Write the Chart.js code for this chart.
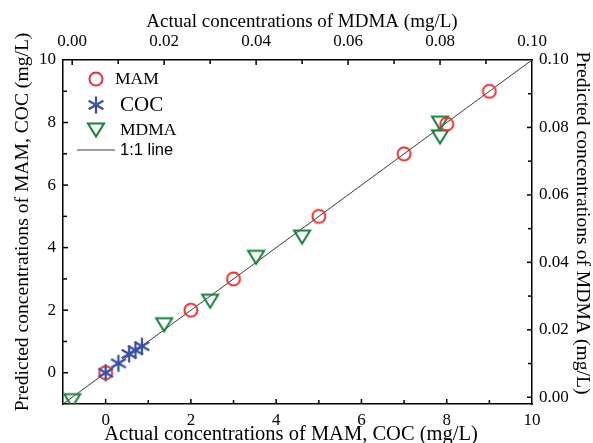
<!DOCTYPE html>
<html lang="en">
<head>
  <meta charset="UTF-8" />
  <title>Predicted vs actual concentrations</title>
  <script src="https://cdn.jsdelivr.net/npm/chart.js"></script>
  <style>
    html, body { margin: 0; padding: 0; background: #fff; }
  </style>
</head>
<body>
  <canvas id="grafico" width="593" height="443"></canvas>

  <script>
    // MAM and COC: bottom / left axes (mg/L)
    const mamActual = [0, 2, 3, 5, 7, 8, 9];
    const mamPredicted = [0, 2, 3, 5, 7, 7.95, 9];
    const cocActual = [0, 0.3, 0.55, 0.7, 0.85];
    const cocPredicted = [0, 0.3, 0.6, 0.72, 0.85];
    // MDMA: top / right axes (mg/L)
    const mdmaActual = [0, 0.02, 0.03, 0.04, 0.05, 0.08, 0.08];
    const mdmaPredicted = [-0.001, 0.0215, 0.0285, 0.0415, 0.0475, 0.0772, 0.0813];
    // 1:1 line ends
    const lineEnds = [-1, 10];

    const xTicks = [0, 2, 4, 6, 8, 10];
    const yTicks = [0, 2, 4, 6, 8, 10];
    const x2Ticks = [0, 0.02, 0.04, 0.06, 0.08, 0.10];
    const y2Ticks = [0, 0.02, 0.04, 0.06, 0.08, 0.10];

    const titleBottom = 'Actual concentrations of MAM, COC (mg/L)';
    const titleTop = 'Actual concentrations of MDMA (mg/L)';
    const titleLeft = 'Predicted concentrations of MAM, COC (mg/L)';
    const titleRight = 'Predicted concentrations of MDMA (mg/L)';

    const serif = '"Liberation Serif", "Times New Roman", serif';
    const sans = '"Liberation Sans", Arial, sans-serif';

    // hollow markers drawn once on small canvases
    function marcador(tipo) {
      const c = document.createElement('canvas');
      c.width = 22; c.height = 22;
      const g = c.getContext('2d');
      g.lineWidth = 2;
      if (tipo === 'circulo') {
        g.strokeStyle = '#ee2e2e';
        g.beginPath(); g.arc(11, 11, 6.5, 0, Math.PI * 2); g.stroke();
      } else if (tipo === 'asterisco') {
        g.strokeStyle = '#3a50a6';
        g.lineWidth = 2.3;
        g.beginPath();
        for (let k = 0; k < 3; k++) {
          const ang = Math.PI / 2 + k * Math.PI / 3;
          g.moveTo(11 + 8.5 * Math.cos(ang), 11 + 8.5 * Math.sin(ang));
          g.lineTo(11 - 8.5 * Math.cos(ang), 11 - 8.5 * Math.sin(ang));
        }
        g.stroke();
      } else {
        g.strokeStyle = '#16803c';
        g.beginPath(); g.moveTo(3, 4.5); g.lineTo(19, 4.5); g.lineTo(11, 17.5); g.closePath(); g.stroke();
      }
      return c;
    }
    const circulo = marcador('circulo');
    const asterisco = marcador('asterisco');
    const triangulo = marcador('triangulo');

    function eixo(pos, min, max, valores, casas, tamanho, pad) {
      return {
        type: 'linear', position: pos, min: min, max: max,
        grid: { display: false, drawTicks: false, tickLength: 0 },
        border: { display: true, color: '#000', width: 1.5 },
        ticks: {
          autoSkip: false, maxRotation: 0, padding: pad, color: '#000',
          font: { family: serif, size: 17 },
          callback: v => v.toFixed(casas)
        },
        afterBuildTicks: s => { s.ticks = valores.map(v => ({ value: v })); },
        afterFit: s => { if (s.isHorizontal()) s.height = tamanho; else s.width = tamanho; }
      };
    }

    // inward tick marks, major + minor
    const marcasInternas = {
      id: 'marcasInternas',
      afterDraw(chart) {
        const ctx = chart.ctx, a = chart.chartArea;
        ctx.save();
        ctx.strokeStyle = '#000';
        ctx.lineWidth = 1.5;
        Object.values(chart.scales).forEach(s => {
          const vals = s.ticks.map(t => t.value);
          const passo = vals[1] - vals[0];
          const marcas = [];
          vals.forEach(v => { marcas.push([v, 5]); marcas.push([v + passo / 2, 4]); });
          marcas.forEach(([v, len]) => {
            if (v <= s.min + 1e-9 || v >= s.max - 1e-9) return;
            const p = s.getPixelForValue(v);
            ctx.beginPath();
            if (s.position === 'bottom') { ctx.moveTo(p, a.bottom); ctx.lineTo(p, a.bottom - len); }
            if (s.position === 'top') { ctx.moveTo(p, a.top); ctx.lineTo(p, a.top + len); }
            if (s.position === 'left') { ctx.moveTo(a.left, p); ctx.lineTo(a.left + len, p); }
            if (s.position === 'right') { ctx.moveTo(a.right, p); ctx.lineTo(a.right - len, p); }
            ctx.stroke();
          });
        });
        ctx.restore();
      }
    };

    // axis titles
    const titulos = {
      id: 'titulos',
      afterDraw(chart) {
        const ctx = chart.ctx;
        ctx.save();
        ctx.fillStyle = '#000';
        ctx.textAlign = 'center';
        ctx.textBaseline = 'alphabetic';
        ctx.font = '19px ' + serif;
        ctx.fillText(titleTop, 302, 27);
        ctx.font = '20.5px ' + serif;
        ctx.fillText(titleBottom, 291, 440);
        ctx.font = '19.6px ' + serif;
        ctx.save();
        ctx.translate(28, 222); ctx.rotate(-Math.PI / 2);
        ctx.fillText(titleLeft, 0, 0);
        ctx.restore();
        ctx.save();
        ctx.translate(577, 223); ctx.rotate(Math.PI / 2);
        ctx.fillText(titleRight, 0, 0);
        ctx.restore();
        ctx.restore();
      }
    };

    // legend inside the plot, top left
    const legenda = {
      id: 'legenda',
      afterDraw(chart) {
        const ctx = chart.ctx, a = chart.chartArea;
        const x0 = a.left + 33;
        const itens = [
          { img: circulo, y: a.top + 19, tx: a.left + 52, font: '17.5px ' + serif },
          { img: asterisco, y: a.top + 45, tx: a.left + 57, font: '21px ' + serif },
          { img: triangulo, y: a.top + 70, tx: a.left + 57, font: '17.5px ' + serif },
          { img: null, y: a.top + 90, tx: a.left + 57, font: '16.5px ' + sans }
        ];
        ctx.save();
        ctx.fillStyle = '#000';
        ctx.textAlign = 'left';
        ctx.textBaseline = 'middle';
        chart.data.datasets.forEach((ds, i) => {
          const it = itens[i];
          if (it.img) {
            ctx.drawImage(it.img, Math.round(x0 - 11), Math.round(it.y - 11));
          } else {
            ctx.strokeStyle = ds.borderColor;
            ctx.lineWidth = 1;
            ctx.beginPath(); ctx.moveTo(x0 - 19, it.y); ctx.lineTo(x0 + 19, it.y); ctx.stroke();
          }
          ctx.font = it.font;
          ctx.fillText(ds.label, it.tx, it.y);
        });
        ctx.restore();
      }
    };

    new Chart(document.getElementById('grafico'), {
      type: 'scatter',
      data: {
        datasets: [
          {
            label: 'MAM',
            data: mamActual.map((v, i) => ({ x: v, y: mamPredicted[i] })),
            xAxisID: 'x', yAxisID: 'y',
            pointStyle: circulo, pointRadius: 7, order: 1
          },
          {
            label: 'COC',
            data: cocActual.map((v, i) => ({ x: v, y: cocPredicted[i] })),
            xAxisID: 'x', yAxisID: 'y',
            pointStyle: asterisco, pointRadius: 8, order: 0
          },
          {
            label: 'MDMA',
            data: mdmaActual.map((v, i) => ({ x: v, y: mdmaPredicted[i] })),
            xAxisID: 'x2', yAxisID: 'y2',
            pointStyle: triangulo, pointRadius: 8, order: 2, clip: 0
          },
          {
            type: 'line',
            label: '1:1 line',
            data: lineEnds.map(v => ({ x: v, y: v })),
            xAxisID: 'x', yAxisID: 'y',
            borderColor: '#3a3a3a', borderWidth: 1,
            pointRadius: 0, order: 3
          }
        ]
      },
      options: {
        responsive: false,
        animation: false,
        layout: { padding: 0 },
        plugins: {
          legend: { display: false },
          tooltip: { enabled: false }
        },
        scales: {
          x: eixo('bottom', -1, 10, xTicks, 0, 39, 6),
          y: eixo('left', -1, 10, yTicks, 0, 63, 7),
          x2: eixo('top', -0.002, 0.1, x2Ticks, 2, 60, 8),
          y2: eixo('right', -0.002, 0.1, y2Ticks, 2, 61, 7)
        }
      },
      plugins: [marcasInternas, legenda, titulos]
    });
  </script>
</body>
</html>
